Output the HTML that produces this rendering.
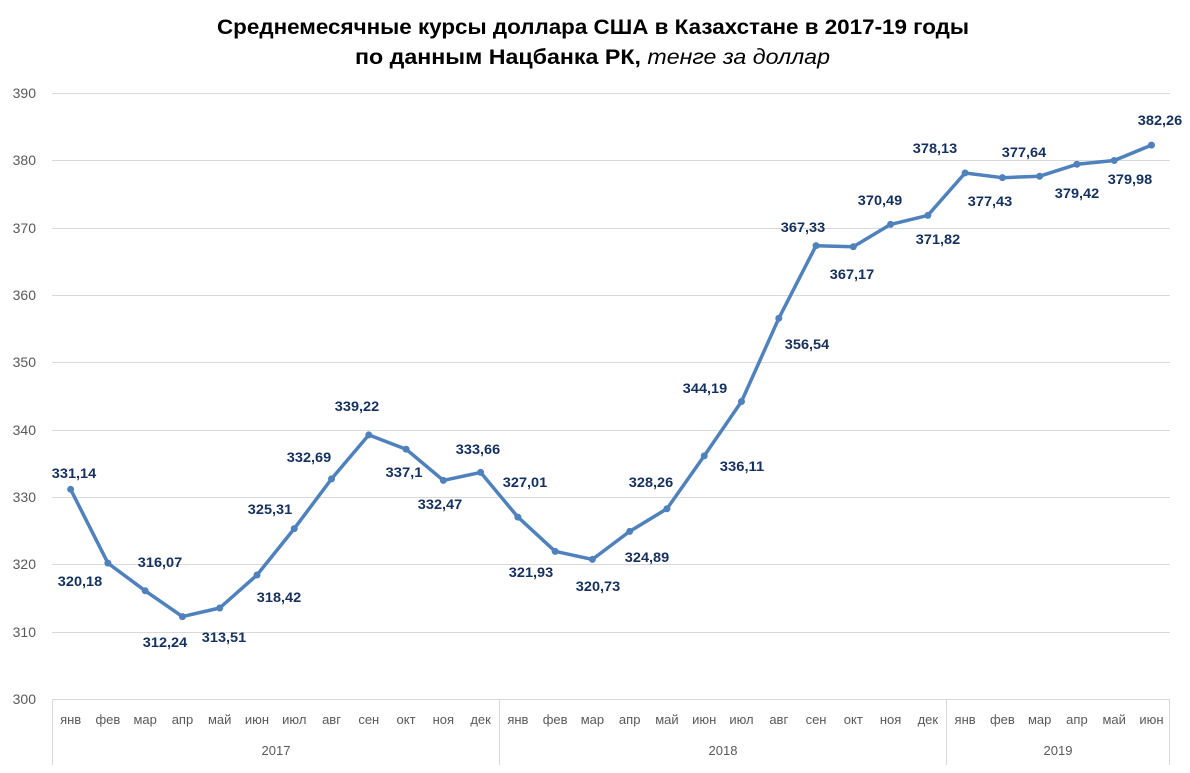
<!DOCTYPE html>
<html><head><meta charset="utf-8"><style>
body{margin:0;background:#fff;}
svg text{font-family:"Liberation Sans","DejaVu Sans",sans-serif;}
</style></head><body>
<svg width="1190" height="768" viewBox="0 0 1190 768" xmlns="http://www.w3.org/2000/svg">
<rect width="1190" height="768" fill="#fff"/>
<text x="217" y="34" textLength="752" lengthAdjust="spacingAndGlyphs" font-size="21" font-weight="bold" fill="#000">Среднемесячные курсы доллара США в Казахстане в 2017-19 годы</text>
<text x="355" y="64" textLength="475" lengthAdjust="spacingAndGlyphs" font-size="21" fill="#000"><tspan font-weight="bold">по данным Нацбанка РК, </tspan><tspan font-style="italic">тенге за доллар</tspan></text>
<g stroke="#d9d9d9" stroke-width="1">
<line x1="52" x2="1170" y1="93.5" y2="93.5"/><line x1="52" x2="1170" y1="160.5" y2="160.5"/><line x1="52" x2="1170" y1="228.5" y2="228.5"/><line x1="52" x2="1170" y1="295.5" y2="295.5"/><line x1="52" x2="1170" y1="362.5" y2="362.5"/><line x1="52" x2="1170" y1="430.5" y2="430.5"/><line x1="52" x2="1170" y1="497.5" y2="497.5"/><line x1="52" x2="1170" y1="564.5" y2="564.5"/><line x1="52" x2="1170" y1="632.5" y2="632.5"/><line x1="52" x2="1170" y1="699.5" y2="699.5"/>
<line x1="52.5" x2="52.5" y1="699" y2="765"/><line x1="499.5" x2="499.5" y1="699" y2="765"/><line x1="946.5" x2="946.5" y1="699" y2="765"/><line x1="1169.5" x2="1169.5" y1="699" y2="765"/>
</g>
<g font-size="14" fill="#595959" text-anchor="end">
<text x="36" y="98">390</text><text x="36" y="165">380</text><text x="36" y="233">370</text><text x="36" y="300">360</text><text x="36" y="367">350</text><text x="36" y="435">340</text><text x="36" y="502">330</text><text x="36" y="569">320</text><text x="36" y="637">310</text><text x="36" y="704">300</text>
</g>
<g id="cats" font-size="13" fill="#595959" text-anchor="middle"></g>
<g font-size="13" fill="#595959" text-anchor="middle">
<text x="276" y="755">2017</text><text x="723" y="755">2018</text><text x="1058" y="755">2019</text>
</g>
<polyline id="ln" fill="none" stroke="#4f81bd" stroke-width="3.5" stroke-linejoin="round"/>
<g id="pts" fill="#4f81bd"></g>
<g id="lbl" font-size="14" font-weight="bold" fill="#14305e"></g>
<script>
var v=[331.14,320.18,316.07,312.24,313.51,318.42,325.31,332.69,339.22,337.1,332.47,333.66,327.01,321.93,320.73,324.89,328.26,336.11,344.19,356.54,367.33,367.17,370.49,371.82,378.13,377.43,377.64,379.42,379.98,382.26];
var L=[[74,478],[80,586],[160,567],[165,647],[224,642],[279,602],[270,514],[309,462],[357,411],[404,477],[440,509],[478,454],[525,487],[531,577],[598,591],[647,562],[651,487],[742,471],[705,393],[807,349],[803,232],[852,279],[880,205],[938,244],[935,153],[990,206],[1024,157],[1077,198],[1130,184],[1160,125]];
var m=["янв","фев","мар","апр","май","июн","июл","авг","сен","окт","ноя","дек"];
var ns="http://www.w3.org/2000/svg",pts=[],c=document.getElementById("cats"),g=document.getElementById("pts"),lb=document.getElementById("lbl");
for(var i=0;i<30;i++){var x=52+37.27*(i+0.5),y=699-(v[i]-300)*6.733;pts.push(x.toFixed(1)+","+y.toFixed(1));
var ci=document.createElementNS(ns,"circle");ci.setAttribute("cx",x);ci.setAttribute("cy",y);ci.setAttribute("r",3.5);g.appendChild(ci);
var t=document.createElementNS(ns,"text");t.setAttribute("x",x);t.setAttribute("y",724);t.textContent=m[i%12];c.appendChild(t);
var s=String(v[i]).replace(".",",");var w=s.length*7.4;var tl=document.createElementNS(ns,"text");tl.setAttribute("x",L[i][0]-w/2);tl.setAttribute("y",L[i][1]);tl.setAttribute("textLength",w);tl.setAttribute("lengthAdjust","spacingAndGlyphs");tl.textContent=s;lb.appendChild(tl);}
document.getElementById("ln").setAttribute("points",pts.join(" "));
</script>
</svg>
</body></html>
